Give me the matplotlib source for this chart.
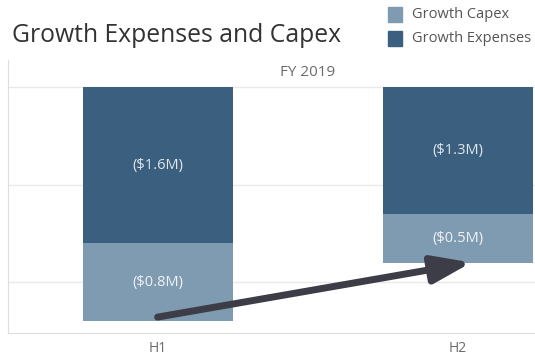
import matplotlib
matplotlib.use("Agg")
import matplotlib.pyplot as plt
from matplotlib.patches import Rectangle
import numpy as np

# half-year growth spend, $M (shown as negatives, hanging from zero)
periods = ["H1", "H2"]
series_names = ["Growth Capex", "Growth Expenses"]
growth_expenses = [1.6, 1.3]
growth_capex = [0.8, 0.5]

col_expenses = "#3b5f7e"
col_capex = "#7f9bb2"
grid_col = "#e9e9e9"
text_grey = "#6b6b6b"

plt.rcParams["font.family"] = ["Open Sans", "DejaVu Sans"]

fig = plt.figure(figsize=(5.35, 3.56), dpi=100)
ax = fig.add_axes([7.5 / 535, 23 / 356, 527.5 / 535, 273 / 356])

x = np.arange(len(periods))
exp_vals = -np.array(growth_expenses)
cap_vals = -np.array(growth_capex)

ax.bar(x, exp_vals, width=0.5, color=col_expenses, zorder=2)
ax.bar(x, cap_vals, bottom=exp_vals, width=0.5, color=col_capex, zorder=2)

for i in range(len(periods)):
    ax.text(x[i], exp_vals[i] / 2, "($%.1fM)" % growth_expenses[i],
            ha="center", va="center", color="#dfe6ec", fontsize=10.5, zorder=3)
    ax.text(x[i], exp_vals[i] + cap_vals[i] / 2, "($%.1fM)" % growth_capex[i],
            ha="center", va="center", color="#eef2f5", fontsize=10.5, zorder=3)

ax.set_xlim(-0.5, 1.257)
ax.set_ylim(-2.523, 0.277)
ax.set_yticks([0, -1, -2])
ax.yaxis.grid(True, color=grid_col, lw=1, zorder=0)
ax.tick_params(axis="y", left=False, labelleft=False)
ax.tick_params(axis="x", bottom=False, colors=text_grey, labelsize=10, pad=2)
ax.set_xticks(x)
ax.set_xticklabels(periods)

for s in ["top", "right"]:
    ax.spines[s].set_visible(False)
ax.spines["left"].set_color("#dedede")
ax.spines["bottom"].set_color("#dedede")

ax.text(0.5, 0.144, "FY 2019", ha="center", va="center",
        color=text_grey, fontsize=11)

# trend arrow from the H1 stack to the H2 stack
h1_total = exp_vals[0] + cap_vals[0]
h2_total = exp_vals[1] + cap_vals[1]
ax.annotate("", xy=(x[1] + 0.045, h2_total), xytext=(x[0], h1_total + 0.04),
            arrowprops=dict(arrowstyle="-|>,head_length=1.55,head_width=0.55",
                            mutation_scale=15, lw=5, color="#3d3d47",
                            capstyle="round", shrinkA=0, shrinkB=0),
            zorder=4)

fig.text(12 / 535, 1 - 35 / 356, "Growth Expenses and Capex", ha="left",
         va="center", fontsize=17.8, color="#333333")

# legend
for k, (name, col) in enumerate(zip(series_names, [col_capex, col_expenses])):
    yc = 1 - (14.5 + 24 * k) / 356
    fig.add_artist(Rectangle((388 / 535, yc - 7.5 / 356), 14 / 535, 15 / 356,
                             transform=fig.transFigure, color=col))
    fig.text(412 / 535, yc, name, ha="left", va="center", fontsize=10.5,
             color="#555555")

fig.savefig("out.png", dpi=100)
